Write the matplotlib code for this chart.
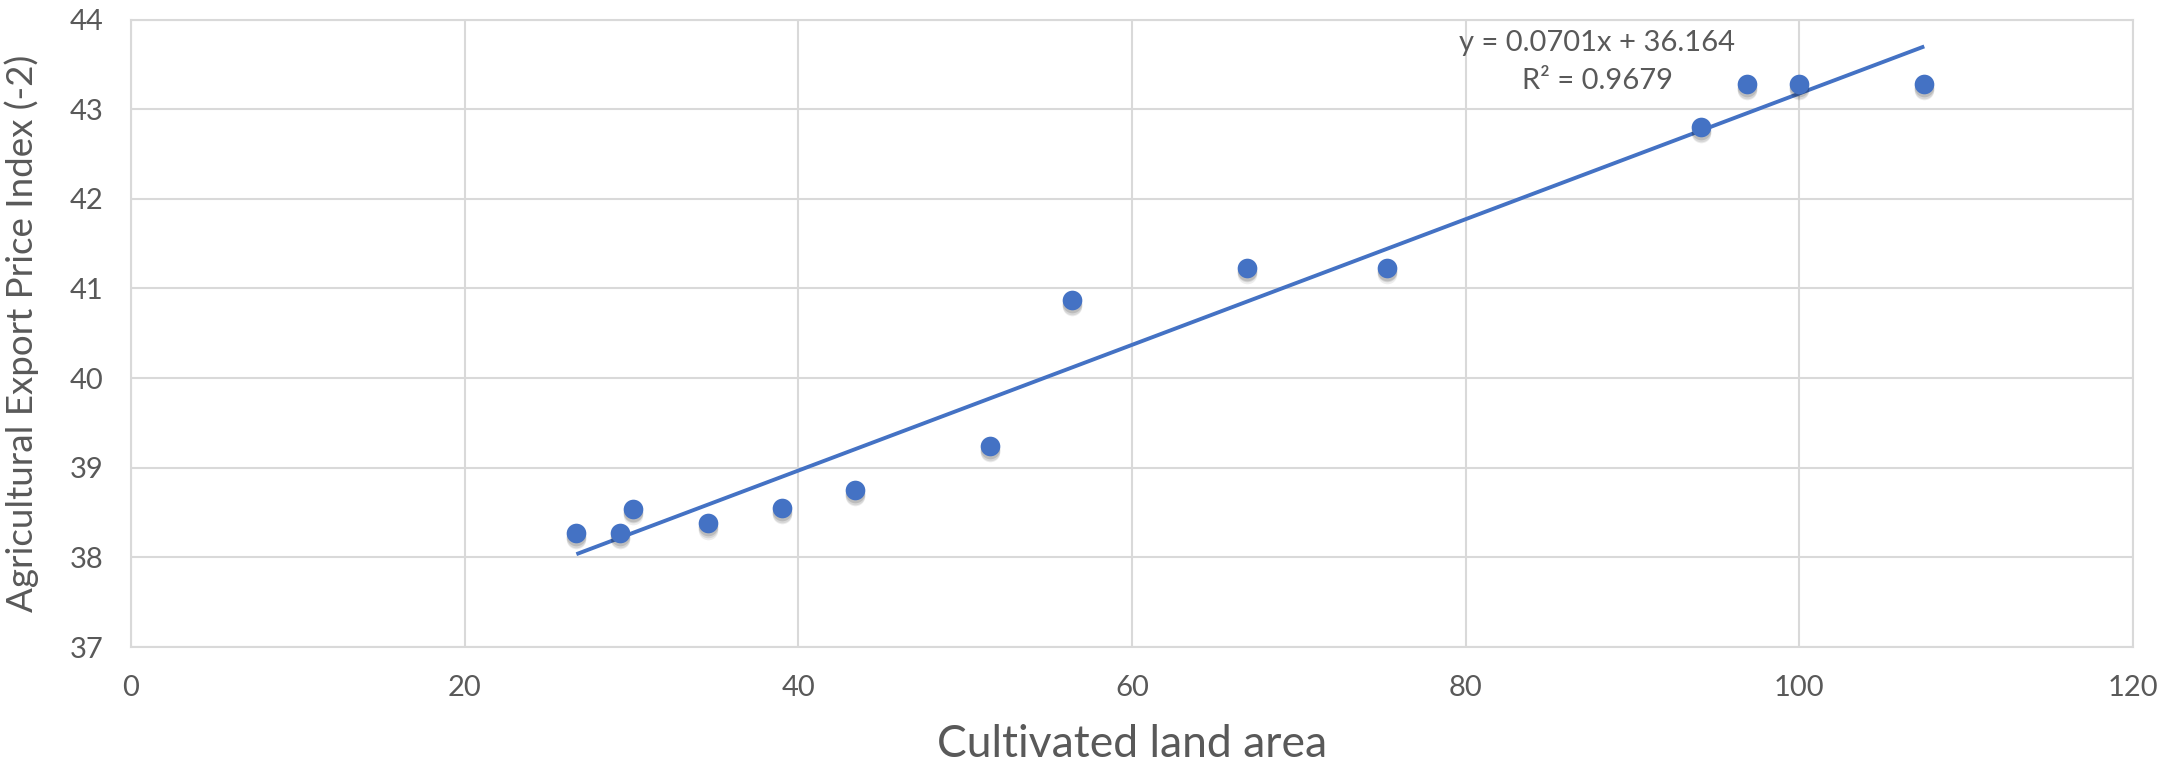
import matplotlib.pyplot as plt
import numpy as np

# cultivated land area vs lagged agricultural export price index
land_area = [26.7, 29.3, 30.1, 34.6, 39.0, 43.4, 51.5, 56.4, 66.9, 75.3, 94.1, 96.9, 100.0, 107.5]
price_index = [38.27, 38.27, 38.54, 38.38, 38.55, 38.75, 39.24, 40.87, 41.23, 41.23, 42.80, 43.28, 43.28, 43.28]

# linear trend as reported
slope = 0.0701
intercept = 36.164
r_squared = 0.9679

x_ticks = [0, 20, 40, 60, 80, 100, 120]
y_ticks = [37, 38, 39, 40, 41, 42, 43, 44]

blue = '#4472C4'
grid_gray = '#D9D9D9'
text_gray = '#595959'

plt.rcParams['font.family'] = ['Lato', 'DejaVu Sans']

fig = plt.figure(figsize=(21.83, 7.71), dpi=100)
ax = fig.add_axes([0.060, 0.1608, 0.917, 0.8139])

ax.set_xlim(0, 120)
ax.set_ylim(37, 44)
ax.set_xticks(x_ticks)
ax.set_yticks(y_ticks)
ax.grid(True, color=grid_gray, linewidth=1.5)
ax.set_axisbelow(True)
for side in ax.spines.values():
    side.set_color(grid_gray)
    side.set_linewidth(1.5)
ax.tick_params(length=0, labelsize=21, labelcolor=text_gray, pad=20)

# trendline across the data range
xs = np.array([min(land_area), max(land_area)])
ax.plot(xs, slope * xs + intercept, color=blue, linewidth=2.8, zorder=3,
        solid_capstyle='butt')

# soft drop shadow under the markers
for dy, a in [(0.07, 0.07), (0.05, 0.09), (0.03, 0.12)]:
    ax.scatter(land_area, np.array(price_index) - dy, s=200, color='black',
               alpha=a, linewidths=0, zorder=3)
ax.scatter(land_area, price_index, s=200, color=blue, linewidths=0, zorder=4)

ax.text(87.9, 43.74, f'y = {slope}x + {intercept}', ha='center', va='center',
        fontsize=21, color=text_gray)
ax.text(87.9, 43.31, f'R² = {r_squared}', ha='center', va='center',
        fontsize=21, color=text_gray)

ax.set_xlabel('Cultivated land area', fontsize=32, color=text_gray)
ax.set_ylabel('Agricultural Export Price Index (-2)', fontsize=26.5, color=text_gray)
ax.xaxis.set_label_coords(0.5, -0.122)
ax.yaxis.set_label_coords(-0.046, 0.5)

fig.savefig('out.png', dpi=100)
